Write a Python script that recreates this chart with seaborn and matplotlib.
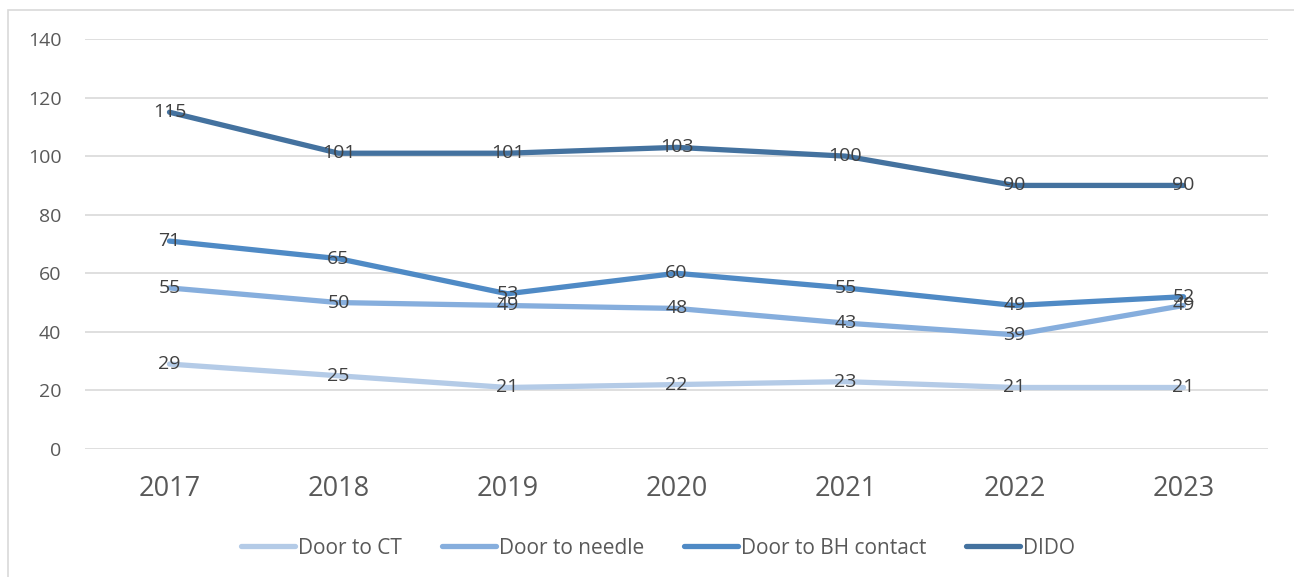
import matplotlib
matplotlib.use("Agg")
import matplotlib.pyplot as plt
import seaborn as sns
import pandas as pd
from matplotlib.patches import Rectangle

years = ["2017", "2018", "2019", "2020", "2021", "2022", "2023"]
door_to_ct = [29, 25, 21, 22, 23, 21, 21]
door_to_needle = [55, 50, 49, 48, 43, 39, 49]
door_to_bh = [71, 65, 53, 60, 55, 49, 52]
dido = [115, 101, 101, 103, 100, 90, 90]
series_names = ["Door to CT", "Door to needle", "Door to BH contact", "DIDO"]
colors = ["#B4CBE7", "#86AEDD", "#4F8AC5", "#44729F"]

sns.set_theme(style="white")
plt.rcParams['font.family'] = ['Open Sans', 'DejaVu Sans']

rows = []
for name, vals in zip(series_names, [door_to_ct, door_to_needle, door_to_bh, dido]):
    for i, (y, v) in enumerate(zip(years, vals)):
        rows.append({"idx": i, "year": y, "value": v, "series": name})
df = pd.DataFrame(rows)

fig = plt.figure(figsize=(12.94, 5.77), dpi=100)
ax = fig.add_axes([85/1294, 1 - 449/577, (1268-85)/1294, (449-39)/577])

sns.lineplot(data=df, x="idx", y="value", hue="series", hue_order=series_names,
             palette=colors, linewidth=3.8, ax=ax, sort=False,
             solid_capstyle="round")

for name, vals in zip(series_names, [door_to_ct, door_to_needle, door_to_bh, dido]):
    for i, v in enumerate(vals):
        ax.text(i, v, str(v), ha="center", va="center", fontsize=14, color="#404040")

ax.set_xlim(-0.5, len(years) - 0.5)
ax.set_ylim(0, 140)
ax.set_yticks(range(0, 141, 20))
ax.set_xticks(range(len(years)))
ax.set_xticklabels(years)
ax.tick_params(axis="x", labelsize=19.5, colors="#595959", length=0, pad=19)
ax.tick_params(axis="y", labelsize=14, colors="#595959", length=0, pad=17)
ax.grid(axis="y", color="#D9D9D9", linewidth=1.2)
ax.set_axisbelow(True)
for s in ax.spines.values():
    s.set_visible(False)
ax.set_xlabel("")
ax.set_ylabel("")

ax.legend(loc="center", bbox_to_anchor=(658/1294, 1 - 548/577), bbox_transform=fig.transFigure,
          ncol=4, frameon=False, fontsize=15, handlelength=2.6, handletextpad=0.15,
          columnspacing=1.9, labelcolor="#595959")
leg = ax.get_legend()
for line in leg.get_lines():
    line.set_linewidth(3.8)

fig.patches.append(Rectangle((8/1294, -0.05), 1.1, 1 - 10/577 + 0.05, transform=fig.transFigure,
                             fill=False, edgecolor="#D9D9D9", linewidth=1.2))

fig.savefig("out.png", dpi=100)
